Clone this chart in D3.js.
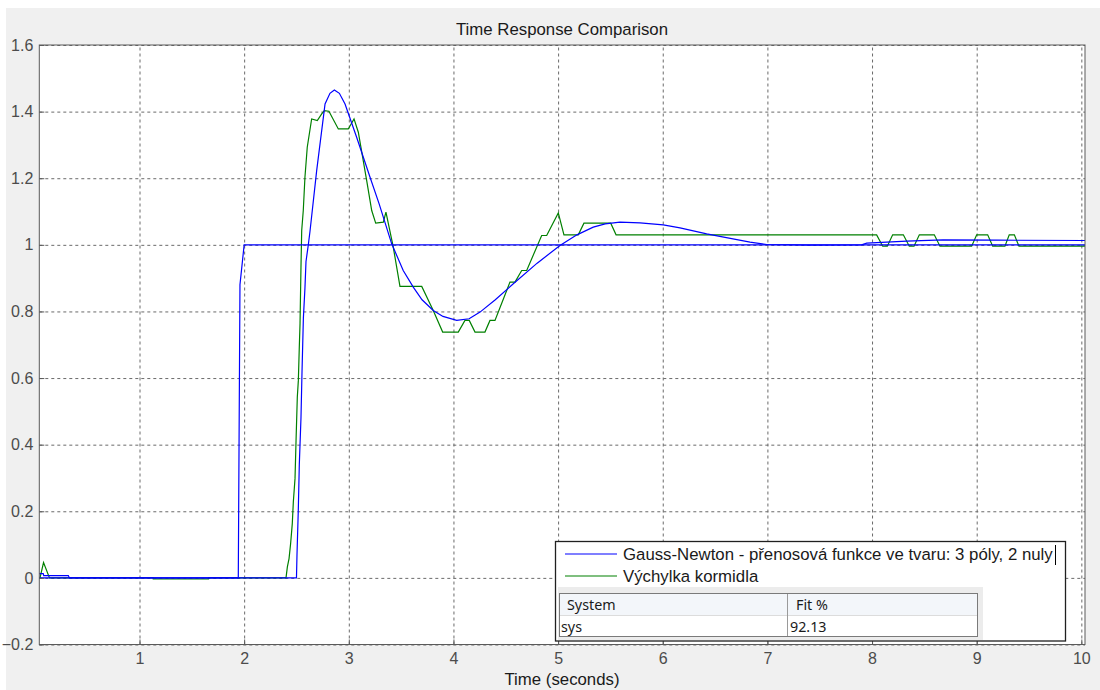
<!DOCTYPE html>
<html>
<head>
<meta charset="utf-8">
<script src="https://cdn.jsdelivr.net/npm/d3@7"></script>
<style>
  body { margin: 0; background: #ffffff; }
  svg { display: block; }
</style>
</head>
<body>
<svg id="chart"></svg>
<script>
// model response (blue, smooth)
var tModel = [0.0425, 0.08, 0.085, 0.32, 0.33, 2.50, 2.505, 2.518, 2.527, 2.543, 2.553, 2.566, 2.581, 2.591, 2.613, 2.629,
  2.693, 2.773, 2.82, 2.862, 2.91, 2.964, 3.075, 3.203, 3.29, 3.41, 3.52, 3.616, 3.7, 3.807, 3.9, 4.031, 4.15, 4.254,
  4.4, 4.572, 4.8, 5.018, 5.18, 5.336, 5.45, 5.591, 5.783, 6.005, 6.165, 6.42, 6.834, 6.993, 7.4, 7.9, 7.949,
  8.331, 8.678, 9.2, 10.035];
var yModel = [0.013, 0.013, 0.007, 0.007, 0, 0, 0.07, 0.21, 0.34, 0.48, 0.62, 0.78, 0.87, 0.95, 1.0, 1.04,
  1.223, 1.423, 1.455, 1.465, 1.455, 1.423, 1.323, 1.203, 1.123, 1.003, 0.923, 0.873, 0.835, 0.803, 0.785, 0.773, 0.778, 0.798,
  0.835, 0.883, 0.945, 0.998, 1.03, 1.053, 1.063, 1.068, 1.066, 1.06, 1.051, 1.033, 1.008, 1.001, 0.999, 1.0, 1.005,
  1.011, 1.015, 1.014, 1.013];

// input step (blue)
var tStep = [0.0425, 1.944, 1.96, 2.0, 10.035];
var yStep = [0, 0, 0.88, 1.0, 1.0];

// measured data (green)
var tMeas = [0.0425, 0.049, 0.083, 0.14, 1.13, 1.131, 1.66, 1.661, 2.40, 2.413, 2.429, 2.444, 2.46, 2.47, 2.486, 2.496,
  2.508, 2.518, 2.527, 2.534, 2.543, 2.55, 2.565, 2.581, 2.603, 2.645, 2.699, 2.741, 2.766, 2.81, 2.9, 2.995, 3.05,
  3.091, 3.171, 3.219, 3.257, 3.33, 3.355, 3.425, 3.489, 3.697, 3.807, 3.897, 4.046, 4.11, 4.151, 4.206, 4.301,
  4.349, 4.397, 4.54, 4.588, 4.652, 4.7, 4.843, 4.891, 5.002, 5.056, 5.193, 5.247, 5.503, 5.554, 8.044, 8.102,
  8.146, 8.197, 8.299, 8.356, 8.401, 8.452, 8.595, 8.649, 8.952, 9.0, 9.105, 9.153, 9.27, 9.311, 9.36, 9.404, 10.035];
var yMeas = [0, 0, 0.046, 0, 0, -0.003, -0.003, 0, 0, 0.033, 0.058, 0.103, 0.163, 0.228, 0.298, 0.413,
  0.543, 0.593, 0.693, 0.763, 0.933, 1.043, 1.103, 1.203, 1.293, 1.378, 1.373, 1.393, 1.403, 1.401, 1.348, 1.348, 1.378,
  1.338, 1.193, 1.103, 1.065, 1.068, 1.098, 0.993, 0.875, 0.875, 0.803, 0.738, 0.738, 0.773, 0.773, 0.738, 0.738,
  0.773, 0.773, 0.888, 0.888, 0.923, 0.923, 1.028, 1.028, 1.096, 1.03, 1.03, 1.065, 1.065, 1.03, 1.03, 0.996,
  0.996, 1.03, 1.03, 0.996, 0.996, 1.03, 1.03, 0.996, 0.996, 1.03, 1.03, 0.996, 0.996, 1.03, 1.03, 0.996, 0.996];

var xTicks = [1, 2, 3, 4, 5, 6, 7, 8, 9, 10];
var yTicks = [-0.2, 0, 0.2, 0.4, 0.6, 0.8, 1, 1.2, 1.4, 1.6];
var legendLabels = ["Gauss-Newton - přenosová funkce ve tvaru: 3 póly, 2 nuly", "Výchylka kormidla"];
var tableHead = ["System", "Fit %"];
var tableRow = ["sys", "92.13"];

var width = 1100, height = 690;
var margin = { left: 39.3, right: 15, top: 45, bottom: 45.5 };
var pw = width - margin.left - margin.right;
var ph = height - margin.top - margin.bottom;
var font = "Liberation Sans, Arial, sans-serif";

var svg = d3.select("#chart").attr("width", width).attr("height", height);

svg.append("rect").attr("x", 6).attr("y", 8).attr("width", width - 6).attr("height", height - 8)
   .attr("fill", "#f0f0f0");

var xscale = d3.scaleLinear().domain([0.0425, 10.035]).range([0, pw]);
var yscale = d3.scaleLinear().domain([-0.2, 1.6]).range([ph, 0]);

var g = svg.append("g").attr("transform", "translate(" + margin.left + "," + margin.top + ")");

g.append("rect").attr("width", pw).attr("height", ph).attr("fill", "#ffffff");

// grid
var gx = g.append("g").attr("transform", "translate(0," + ph + ")")
          .call(d3.axisBottom(xscale).tickValues(xTicks).tickSize(-ph).tickFormat(""));
var gy = g.append("g")
          .call(d3.axisLeft(yscale).tickValues(yTicks).tickSize(-pw).tickFormat(""));
[gx, gy].forEach(function(a) {
  a.select(".domain").remove();
  a.selectAll("line").attr("stroke", "#6a6a6a").attr("stroke-dasharray", "3,3").attr("stroke-width", 1);
});

// lines
var line = d3.line().x(function(d) { return xscale(d[0]); }).y(function(d) { return yscale(d[1]); });
function pairs(t, y) { return t.map(function(v, i) { return [v, y[i]]; }); }

var plot = g.append("g");
plot.append("path").datum(pairs(tMeas, yMeas)).attr("d", line)
    .attr("fill", "none").attr("stroke", "#008000").attr("stroke-width", 1.2);
plot.append("path").datum(pairs(tStep, yStep)).attr("d", line)
    .attr("fill", "none").attr("stroke", "#0000ff").attr("stroke-width", 1.2);
plot.append("path").datum(pairs(tModel, yModel)).attr("d", line)
    .attr("fill", "none").attr("stroke", "#0000ff").attr("stroke-width", 1.2);

// frame
g.append("rect").attr("width", pw).attr("height", ph)
 .attr("fill", "none").attr("stroke", "#5a5a5a").attr("stroke-width", 1);

// axes with labels
var ax = g.append("g").attr("transform", "translate(0," + ph + ")")
          .call(d3.axisBottom(xscale).tickValues(xTicks).tickSize(-5).tickPadding(8).tickFormat(d3.format("d")));
var ay = g.append("g")
          .call(d3.axisLeft(yscale).tickValues(yTicks).tickSize(-5).tickPadding(6)
          .tickFormat(function(d) { return d3.format("")(+d.toFixed(1)); }));
[ax, ay].forEach(function(a) {
  a.select(".domain").remove();
  a.selectAll("line").attr("stroke", "#5a5a5a");
  a.selectAll("text").attr("fill", "#4c4c4c").attr("font-size", 16).attr("font-family", font);
});

svg.append("text").attr("x", 562).attr("y", 35).attr("text-anchor", "middle")
   .attr("font-family", font).attr("font-size", 16.8).attr("fill", "#1a1a1a")
   .text("Time Response Comparison");
svg.append("text").attr("x", 562).attr("y", 685).attr("text-anchor", "middle")
   .attr("font-family", font).attr("font-size", 16.8).attr("fill", "#1a1a1a")
   .text("Time (seconds)");

// legend
var lg = svg.append("g");
lg.append("rect").attr("x", 555.5).attr("y", 541.5).attr("width", 510).attr("height", 99.5)
  .attr("fill", "#ffffff").attr("stroke", "#202020").attr("stroke-width", 1.3);
var legendColors = ["#0000ff", "#008000"];
legendLabels.forEach(function(lab, i) {
  var yy = 554 + i * 22;
  lg.append("line").attr("x1", 565).attr("x2", 617).attr("y1", yy).attr("y2", yy)
    .attr("stroke", legendColors[i]).attr("stroke-width", 1.2);
  lg.append("text").attr("x", 623).attr("y", yy + 6)
    .attr("font-family", font).attr("font-size", 16.8).attr("fill", "#1a1a1a")
    .text(lab);
});
lg.append("line").attr("x1", 1055.5).attr("x2", 1055.5).attr("y1", 545).attr("y2", 565)
  .attr("stroke", "#000000").attr("stroke-width", 1);

// fit table
lg.append("rect").attr("x", 558).attr("y", 587).attr("width", 425).attr("height", 53)
  .attr("fill", "#ececec");
lg.append("rect").attr("x", 559.5).attr("y", 593.5).attr("width", 418).attr("height", 43)
  .attr("fill", "#ffffff").attr("stroke", "#7a7a7a");
lg.append("rect").attr("x", 560).attr("y", 594).attr("width", 417).attr("height", 21)
  .attr("fill", "#f3f6fa");
lg.append("line").attr("x1", 560).attr("x2", 977).attr("y1", 615.5).attr("y2", 615.5).attr("stroke", "#dcdcdc");
lg.append("line").attr("x1", 787.5).attr("x2", 787.5).attr("y1", 594).attr("y2", 636).attr("stroke", "#9a9a9a");
var tf = "Noto Sans, Open Sans, sans-serif";
lg.append("text").attr("x", 567).attr("y", 610).attr("font-family", tf).attr("font-size", 14.3).attr("fill", "#1a1a1a").text(tableHead[0]);
lg.append("text").attr("x", 796).attr("y", 610).attr("font-family", tf).attr("font-size", 14.3).attr("fill", "#1a1a1a").text(tableHead[1]);
lg.append("text").attr("x", 561).attr("y", 632).attr("font-family", tf).attr("font-size", 14.3).attr("fill", "#1a1a1a").text(tableRow[0]);
lg.append("text").attr("x", 790).attr("y", 632).attr("font-family", tf).attr("font-size", 14.3).attr("fill", "#1a1a1a").text(tableRow[1]);
</script>
</body>
</html>
